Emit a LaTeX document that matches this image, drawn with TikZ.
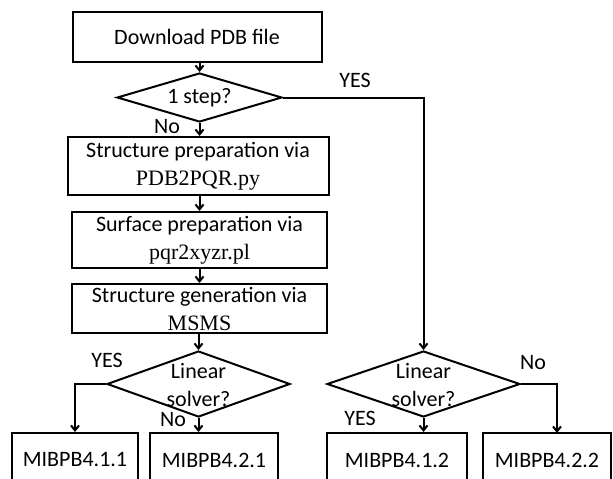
\documentclass[tikz,border=0pt]{standalone}
\usepackage{fontspec}
\setmainfont{Carlito}
\newfontfamily\tim{Liberation Serif}
\usetikzlibrary{shapes.geometric,arrows.meta}
\begin{document}
\begin{tikzpicture}[x=1pt,y=-1pt,
  every node/.style={font=\fontsize{22}{28}\selectfont},
  box/.style={draw,line width=2pt,inner sep=0pt,align=center},
  dia/.style={draw,diamond,line width=2pt,inner sep=0pt},
  lbl/.style={inner sep=0pt,align=center},
  arr/.style={line width=2pt,-{Straight Barb[length=5pt,width=8pt]}}]
\useasboundingbox (0,0) rectangle (613,479);
\clip (0,0) rectangle (613,479);
\fill[white] (0,0) rectangle (613,479);
% boxes
\node[box,minimum width=249pt,minimum height=50pt] (dl) at (197,37) {Download PDB file};
\node[dia,minimum width=165pt,minimum height=49pt] (d1) at (199.5,97.5) {};
\node[lbl] at (199.5,98) {1 step?};
\node[box,minimum width=261pt,minimum height=58pt] (b2) at (198,166) {Structure preparation via\\{\tim PDB2PQR.py}};
\node[box,minimum width=255pt,minimum height=56pt] (b3) at (199.5,240) {Surface preparation via\\{\tim pqr2xyzr.pl}};
\node[box,minimum width=255pt,minimum height=49pt] (b4) at (199.5,308.5) {Structure generation via\\{\tim MSMS}};
\node[dia,minimum width=183pt,minimum height=66pt] (d2) at (198.5,384) {};
\node[lbl] at (198.5,385) {Linear\\solver?};
\node[dia,minimum width=193pt,minimum height=66pt] (d3) at (423.5,384) {};
\node[lbl] at (423.5,385) {Linear\\solver?};
\node[box,minimum width=126pt,minimum height=60pt] (b411) at (75,463) {};
\node[lbl] at (75,460) {MIBPB4.1.1};
\node[box,minimum width=128pt,minimum height=60pt] (b421) at (214,463) {};
\node[lbl] at (214,460) {MIBPB4.2.1};
\node[box,minimum width=140pt,minimum height=60pt] (b412) at (397,463) {};
\node[lbl] at (397,460) {MIBPB4.1.2};
\node[box,minimum width=128pt,minimum height=60pt] (b422) at (547,463) {};
\node[lbl] at (547,460) {MIBPB4.2.2};
% labels
\node[lbl] at (355,80) {YES};
\node[lbl] at (167,127) {No};
\node[lbl] at (107,360) {YES};
\node[lbl] at (173,420) {No};
\node[lbl] at (533,363) {No};
\node[lbl] at (360,418) {YES};
% connectors
\coordinate (r) at (557,433);
\draw[arr] (d1.north |- dl.south) -- (d1.north);
\draw[arr] (d1.south) -- (d1.south |- b2.north);
\draw[arr] (b3.north |- b2.south) -- (b3.north);
\draw[arr] (b3.south) -- (b4.north);
\draw[arr] (d2.north |- b4.south) -- (d2.north);
\draw[arr] (d2.west) -| (b411.north);
\draw[arr] (d2.south) -- (d2.south |- b421.north);
\draw[arr] (d1.east) -| (d3.north);
\draw[arr] (d3.south) -- (d3.south |- b412.north);
\draw[arr] (d3.east) -| (r);
\end{tikzpicture}
\end{document}
